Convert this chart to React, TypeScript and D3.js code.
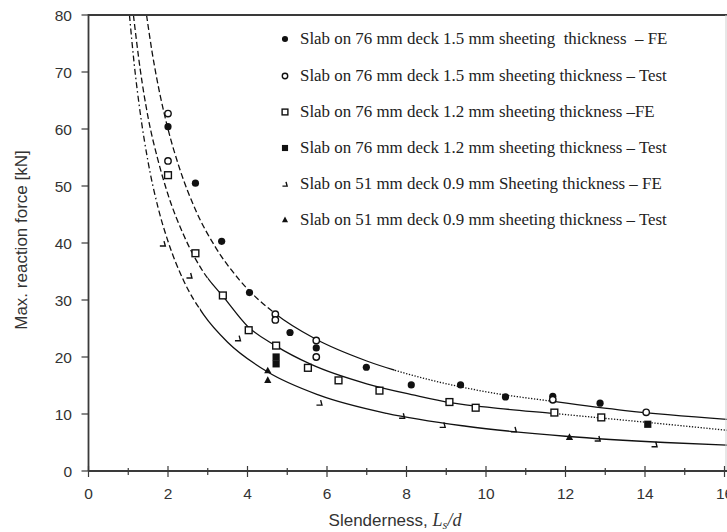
import React from "react";
import * as d3 from "d3";

// ---------- data ----------
const xTicks = [0, 2, 4, 6, 8, 10, 12, 14, 16];
const xMinorTicks = [1, 3, 5, 7, 9, 11, 13, 15];
const yTicks = [0, 10, 20, 30, 40, 50, 60, 70, 80];

const fe15X = [2.0, 2.69, 3.35, 4.05, 5.07, 5.73, 6.99, 8.12, 9.36, 10.49, 11.68, 12.87];
const fe15Y = [60.4, 50.5, 40.3, 31.3, 24.3, 21.6, 18.2, 15.1, 15.1, 13.0, 13.1, 11.9];

const test15X = [2.0, 2.0, 4.7, 4.7, 5.73, 5.73, 11.68, 14.03];
const test15Y = [62.7, 54.4, 27.5, 26.5, 22.9, 20.0, 12.5, 10.3];

const fe12X = [2.0, 2.69, 3.38, 4.03, 4.72, 5.52, 6.29, 7.32, 9.08, 9.74, 11.72, 12.9];
const fe12Y = [51.9, 38.2, 30.8, 24.7, 22.0, 18.1, 15.9, 14.1, 12.1, 11.1, 10.25, 9.4];

const test12X = [4.72, 4.72, 14.07];
const test12Y = [20.0, 18.8, 8.2];

const fe09X = [1.87, 2.54, 3.76, 5.81, 7.89, 8.91, 10.7, 12.81, 14.24];
const fe09Y = [39.9, 34.3, 23.3, 12.0, 9.7, 8.1, 7.3, 5.7, 4.7];

const test09X = [4.51, 4.51, 12.1];
const test09Y = [17.6, 15.9, 5.9];

// fitted curves (knots)
const curve15X = [1.46, 1.6, 1.8, 2.0, 2.3, 2.7, 3.2, 3.8, 4.7, 5.7, 7.0, 8.5, 10, 11.7, 13.5, 16.2];
const curve15Y = [80, 73.5, 66.0, 60.0, 52.9, 45.7, 39.2, 33.5, 27.6, 23.2, 19.3, 16.15, 13.9, 12.2, 10.6, 9.0];

const curve12X = [1.13, 1.3, 1.5, 1.75, 2.0, 2.4, 2.9, 3.4, 4.0, 4.7, 5.6, 7.0, 8.2, 9.1, 10.3, 11.7, 12.9, 14.1, 16.2];
const curve12Y = [80, 70.5, 62, 54.5, 48.5, 41.3, 34.8, 30.5, 25.4, 22.0, 18.7, 15.3, 13.3, 12.0, 11.0, 10.1, 9.3, 8.5, 7.05];

const curve09X = [1.03, 1.15, 1.3, 1.5, 1.75, 2.0, 2.4, 2.9, 3.5, 4.5, 5.8, 7.5, 9.5, 12, 14.5, 16.2];
const curve09Y = [80, 71.4, 62.9, 54.2, 46.2, 40.3, 33.3, 27.4, 22.6, 17.4, 13.3, 10.1, 7.85, 6.1, 5.0, 4.5];

// segments of each curve: [from x, to x, style]
const curve15Segs: [number, number, string][] = [[1.4, 4.7, "dashed"], [4.7, 7.7, "solid"], [7.7, 11.7, "dotted"], [11.7, 16.3, "solid"]];
const curve12Segs: [number, number, string][] = [[1.1, 3.0, "dashed"], [3.0, 11.7, "solid"], [11.7, 16.3, "dotted"]];
const curve09Segs: [number, number, string][] = [[1.0, 1.7, "dashdot"], [1.7, 2.8, "dashed"], [2.8, 16.3, "solid"]];

const legendLabels = [
  "Slab on 76 mm deck 1.5 mm sheeting  thickness  \u2013 FE",
  "Slab on 76 mm deck 1.5 mm sheeting thickness \u2013 Test",
  "Slab on 76 mm deck 1.2 mm sheeting thickness \u2013FE",
  "Slab on 76 mm deck 1.2 mm sheeting thickness \u2013 Test",
  "Slab on 51 mm deck 0.9 mm Sheeting thickness \u2013 FE",
  "Slab on 51 mm deck 0.9 mm sheeting thickness \u2013 Test",
];
const legendKinds = ["dot", "circle", "square", "fsquare", "hook", "triangle"];

// ---------- layout ----------
const W = 727;
const H = 532;
const x = d3.scaleLinear().domain([0, 16]).range([88.5, 724.5]);
const y = d3.scaleLinear().domain([0, 80]).range([471, 15]);
const INK = "#111";
const AX = "#3a3a3a";
const SANS = "'Liberation Sans', Arial, sans-serif";
const SERIF = "'Liberation Serif', 'Times New Roman', serif";

const dashFor: Record<string, string | undefined> = {
  solid: undefined,
  dashed: "6,3",
  dotted: "1.3,1.6",
  dashdot: "6,3,1.5,3",
};

function Marker({ kind, cx, cy, s = 1 }: { kind: string; cx: number; cy: number; s?: number }) {
  switch (kind) {
    case "dot":
      return <circle cx={cx} cy={cy} r={3.6 * s} fill={INK} />;
    case "circle":
      return <circle cx={cx} cy={cy} r={3.2 * s} fill="white" stroke={INK} strokeWidth={1.4} />;
    case "square":
      return <rect x={cx - 3.4 * s} y={cy - 3.4 * s} width={6.8 * s} height={6.8 * s} fill="white" stroke={INK} strokeWidth={1.4} />;
    case "fsquare":
      return <rect x={cx - 3.6 * s} y={cy - 3.6 * s} width={7.2 * s} height={7.2 * s} fill={INK} />;
    case "hook":
      return (
        <path
          d={`M${cx - 3 * s},${cy + 2.5 * s} L${cx + 2.5 * s},${cy + 2.5 * s} L${cx + 1.2 * s},${cy - 2.5 * s}`}
          fill="none"
          stroke={INK}
          strokeWidth={1.4}
        />
      );
    case "triangle":
      return <path d={`M${cx},${cy - 4 * s} L${cx + 3.6 * s},${cy + 2.6 * s} L${cx - 3.6 * s},${cy + 2.6 * s} Z`} fill={INK} />;
    default:
      return null;
  }
}

function CurvePath({ xs, ys, segs, id }: { xs: number[]; ys: number[]; segs: [number, number, string][]; id: string }) {
  const pts = xs.map((v, i) => [v, ys[i]] as [number, number]);
  const line = d3
    .line<[number, number]>()
    .x((d) => x(d[0]))
    .y((d) => y(d[1]))
    .curve(d3.curveMonotoneX);
  const d = line(pts) || "";
  return (
    <g>
      <defs>
        {segs.map((s, i) => (
          <clipPath id={`${id}-${i}`} key={i}>
            <rect x={x(s[0])} y={y(80)} width={x(s[1]) - x(s[0])} height={y(0) - y(80)} />
          </clipPath>
        ))}
      </defs>
      {segs.map((s, i) => (
        <path
          key={i}
          d={d}
          fill="none"
          stroke={INK}
          strokeWidth={1.3}
          strokeDasharray={dashFor[s[2]]}
          clipPath={`url(#${id}-${i})`}
        />
      ))}
    </g>
  );
}

export default function App() {
  const series: { xs: number[]; ys: number[]; kind: string }[] = [
    { xs: fe15X, ys: fe15Y, kind: "dot" },
    { xs: fe12X, ys: fe12Y, kind: "square" },
    { xs: test12X, ys: test12Y, kind: "fsquare" },
    { xs: fe09X, ys: fe09Y, kind: "hook" },
    { xs: test09X, ys: test09Y, kind: "triangle" },
    { xs: test15X, ys: test15Y, kind: "circle" },
  ];
  const legendY = [39, 76, 112, 148, 184, 220];

  return (
    <div style={{ position: "absolute", left: 0, top: 0 }}>
      <svg width={W} height={H} viewBox={`0 0 ${W} ${H}`} style={{ display: "block", background: "white" }}>
        <rect x={0} y={0} width={W} height={H} fill="white" />

        {/* curves */}
        <CurvePath xs={curve15X} ys={curve15Y} segs={curve15Segs} id="c15" />
        <CurvePath xs={curve12X} ys={curve12Y} segs={curve12Segs} id="c12" />
        <CurvePath xs={curve09X} ys={curve09Y} segs={curve09Segs} id="c09" />

        {/* points */}
        {series.map((s, si) =>
          s.xs.map((v, i) => <Marker key={`${si}-${i}`} kind={s.kind} cx={x(v)} cy={y(s.ys[i])} />)
        )}

        {/* frame */}
        <line x1={x(0)} x2={W} y1={y(80)} y2={y(80)} stroke={AX} strokeWidth={2.2} />
        <line x1={W - 1} x2={W - 1} y1={y(80)} y2={y(0)} stroke="#cfcfcf" strokeWidth={1} />

        {/* x axis */}
        <line x1={x(0)} x2={W} y1={y(0)} y2={y(0)} stroke={AX} strokeWidth={1.8} />
        {xTicks.map((t) => (
          <g key={`xt${t}`}>
            <line x1={x(t)} x2={x(t)} y1={y(0) - 5} y2={y(0) + 6} stroke={AX} strokeWidth={1.2} />
            <text x={x(t)} y={y(0) + 28} textAnchor="middle" fontFamily={SANS} fontSize={15.5} fill="#333">
              {t}
            </text>
          </g>
        ))}
        {xMinorTicks.map((t) => (
          <line key={`xm${t}`} x1={x(t)} x2={x(t)} y1={y(0) - 3} y2={y(0) + 4} stroke={AX} strokeWidth={1.2} />
        ))}

        {/* y axis */}
        <line x1={x(0)} x2={x(0)} y1={y(80) - 1} y2={y(0)} stroke={AX} strokeWidth={1.8} />
        {yTicks.map((t) => (
          <g key={`yt${t}`}>
            <line x1={x(0) - 7} x2={x(0)} y1={y(t)} y2={y(t)} stroke={AX} strokeWidth={1.2} />
            <text x={72} y={y(t) + 5.5} textAnchor="end" fontFamily={SANS} fontSize={15.5} fill="#333">
              {t}
            </text>
          </g>
        ))}

        {/* axis titles */}
        <text x={395} y={526} textAnchor="middle" fontFamily={SANS} fontSize={17} fill="#333">
          {"Slenderness, "}
          <tspan fontFamily={SERIF} fontStyle="italic" fontSize={18}>L</tspan>
          <tspan fontFamily={SERIF} fontStyle="italic" fontSize={12.5} dy={2.5}>s</tspan>
          <tspan fontFamily={SERIF} fontStyle="italic" fontSize={18} dy={-2.5}>/d</tspan>
        </text>
        <text
          transform={`translate(27,${240}) rotate(-90)`}
          textAnchor="middle"
          fontFamily={SANS}
          fontSize={17}
          fill="#333"
        >
          Max. reaction force [kN]
        </text>

        {/* legend */}
        {legendLabels.map((lab, i) => (
          <g key={`lg${i}`}>
            <Marker kind={legendKinds[i]} cx={285} cy={legendY[i]} s={0.85} />
            <text
              x={300}
              y={legendY[i] + 5}
              fontFamily={SERIF}
              fontSize={16.9}
              fill="#222"
              style={{ whiteSpace: "pre" }}
              xmlSpace="preserve"
            >
              {lab}
            </text>
          </g>
        ))}
      </svg>
    </div>
  );
}
